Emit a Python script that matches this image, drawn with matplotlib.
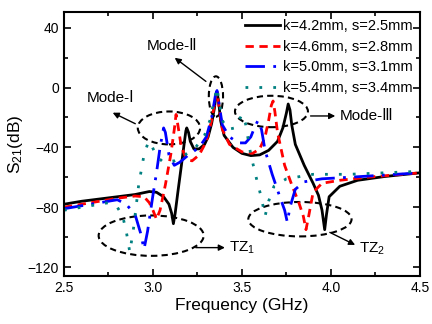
import matplotlib
matplotlib.use('Agg')
import matplotlib.pyplot as plt
from matplotlib.patches import Ellipse

plt.rcParams['font.family'] = ['Liberation Sans', 'DejaVu Sans']
plt.rcParams['mathtext.default'] = 'regular'

# S21 curves (GHz, dB)
f_k42 = [2.5, 2.6, 2.7, 2.8, 2.9, 2.98, 3.02, 3.06, 3.09, 3.105, 3.115, 3.125, 3.14, 3.16,
         3.175, 3.185, 3.19, 3.2, 3.21, 3.23, 3.26, 3.29, 3.31, 3.33, 3.345, 3.355, 3.36,
         3.37, 3.38, 3.4, 3.45, 3.5, 3.55, 3.6, 3.65, 3.7, 3.73, 3.75, 3.76, 3.77, 3.78,
         3.8, 3.85, 3.9, 3.93, 3.95, 3.965, 3.975, 3.99, 4.05, 4.15, 4.3, 4.5]
s_k42 = [-78, -76, -74.5, -73, -71.5, -69.5, -70, -73, -78, -84, -91, -84, -70, -52,
         -38, -29, -27, -30, -36, -41, -41, -38, -33, -24, -14, -5, -3,
         -10, -22, -32, -40, -44, -45.5, -45, -42, -36, -27, -17, -11, -15, -25,
         -38, -52, -64, -72, -82, -95, -85, -73, -66, -62, -59.5, -57]

f_k46 = [2.5, 2.6, 2.7, 2.8, 2.9, 2.95, 2.98, 3.0, 3.02, 3.04, 3.07, 3.1, 3.12, 3.13, 3.14,
         3.16, 3.19, 3.22, 3.26, 3.3, 3.33, 3.35, 3.36, 3.37, 3.39, 3.43, 3.5, 3.56, 3.6,
         3.63, 3.65, 3.665, 3.675, 3.685, 3.7, 3.74, 3.78, 3.82, 3.845, 3.86, 3.875, 3.9,
         3.95, 4.05, 4.2, 4.35, 4.5]
s_k46 = [-80, -78, -76, -74, -72.5, -73, -77, -82, -88, -82, -65, -45, -28, -18, -25,
         -40, -48, -49, -45, -36, -22, -8, -3, -12, -28, -38, -43, -44, -41,
         -33, -22, -12, -9, -16, -30, -52, -65, -77, -86, -95, -86, -70,
         -64, -62, -60, -58.5, -57]

f_k50 = [2.5, 2.6, 2.7, 2.8, 2.85, 2.9, 2.93, 2.95, 2.97, 3.0, 3.02, 3.04, 3.06, 3.07, 3.09,
         3.12, 3.15, 3.2, 3.26, 3.3, 3.33, 3.35, 3.36, 3.37, 3.39, 3.43, 3.48, 3.52, 3.55,
         3.57, 3.59, 3.61, 3.63, 3.67, 3.71, 3.74, 3.755, 3.77, 3.8, 3.85, 3.95, 4.1, 4.3, 4.5]
s_k50 = [-81, -79, -77, -75, -78, -85, -97, -108, -96, -72, -57, -40, -27, -30, -45,
         -52, -50, -45, -40, -33, -20, -6, -2, -10, -25, -33, -37, -37, -33,
         -27, -22, -28, -42, -58, -72, -82, -90, -80, -68, -63, -61, -60, -58.5, -57]

f_k54 = [2.5, 2.6, 2.7, 2.75, 2.8, 2.83, 2.85, 2.87, 2.89, 2.92, 2.95, 2.975, 2.99, 3.02,
         3.06, 3.12, 3.18, 3.24, 3.29, 3.32, 3.345, 3.36, 3.37, 3.39, 3.42, 3.46, 3.48, 3.5,
         3.52, 3.55, 3.58, 3.61, 3.63, 3.65, 3.68, 3.75, 3.9, 4.1, 4.3, 4.5]
s_k54 = [-82, -80, -78, -77, -80, -86, -96, -110, -95, -65, -45, -36, -38, -46,
         -50, -49, -45, -40, -32, -22, -8, 0, -8, -22, -28, -27, -23, -18,
         -24, -45, -60, -74, -86, -76, -66, -61, -58, -58, -57, -56]

fig = plt.figure(figsize=(4.32, 3.24), dpi=100)
ax = fig.add_axes([0.148, 0.148, 0.824, 0.815])

ax.plot(f_k42, s_k42, color='black', lw=2, label='k=4.2mm, s=2.5mm')
ax.plot(f_k46, s_k46, color='red', lw=2, ls=(0, (3, 2)), label='k=4.6mm, s=2.8mm')
ax.plot(f_k50, s_k50, color='blue', lw=2, ls=(0, (7, 3, 1, 3)), label='k=5.0mm, s=3.1mm')
ax.plot(f_k54, s_k54, color='#008080', lw=2, ls=(0, (1, 4)), label='k=5.4mm, s=3.4mm')

# dashed ellipses marking the modes and transmission zeros
ellipses = [(3.09, -27, 0.35, 22), (3.354, -6, 0.08, 27), (3.666, -16, 0.41, 21),
            (2.99, -99, 0.59, 27), (3.826, -88, 0.58, 23)]
for cx, cy, w, h in ellipses:
    ax.add_patch(Ellipse((cx, cy), w, h, fill=False, ec='black', ls=(0, (3, 2)), lw=1.5))

arr = dict(arrowstyle='-|>', color='black', lw=1, mutation_scale=9)
ax.annotate('', xy=(2.76, -16), xytext=(2.915, -25), arrowprops=arr)
ax.text(2.76, -7, 'Mode-Ⅰ', fontsize=11, ha='center', va='center')
ax.annotate('', xy=(3.11, 21), xytext=(3.31, 3), arrowprops=arr)
ax.text(3.11, 28, 'Mode-Ⅱ', fontsize=11, ha='center', va='center')
ax.annotate('', xy=(4.04, -19), xytext=(3.87, -19), arrowprops=arr)
ax.text(4.05, -19, 'Mode-Ⅲ', fontsize=11, ha='left', va='center')
ax.annotate('', xy=(3.42, -107), xytext=(3.225, -107), arrowprops=arr)
ax.text(3.43, -107, 'TZ$_1$', fontsize=11, ha='left', va='center')
ax.annotate('', xy=(4.15, -106), xytext=(3.98, -96), arrowprops=arr)
ax.text(4.16, -108, 'TZ$_2$', fontsize=11, ha='left', va='center')

ax.set_xlim(2.5, 4.5)
ax.set_ylim(-126, 50.5)
ax.set_xticks([2.5, 3.0, 3.5, 4.0, 4.5])
ax.set_xticks([2.75, 3.25, 3.75, 4.25], minor=True)
ax.set_yticks([-120, -80, -40, 0, 40])
ax.set_yticks([-100, -60, -20, 20], minor=True)
ax.tick_params(which='both', direction='in', top=True, right=True, labelsize=10, width=1.2)
ax.tick_params(which='major', length=5)
ax.tick_params(which='minor', length=3)
for sp in ax.spines.values():
    sp.set_linewidth(1.5)

ax.set_xlabel('Frequency (GHz)', fontsize=12.5, labelpad=2)
ax.set_ylabel('S$_{21}$(dB)', fontsize=12.5, labelpad=2)

ax.legend(loc='upper right', fontsize=10.5, frameon=False, handlelength=2.4, handletextpad=0.2,
          labelspacing=0.45, borderaxespad=0.2, borderpad=0.3)

fig.savefig('out.png', dpi=100)
